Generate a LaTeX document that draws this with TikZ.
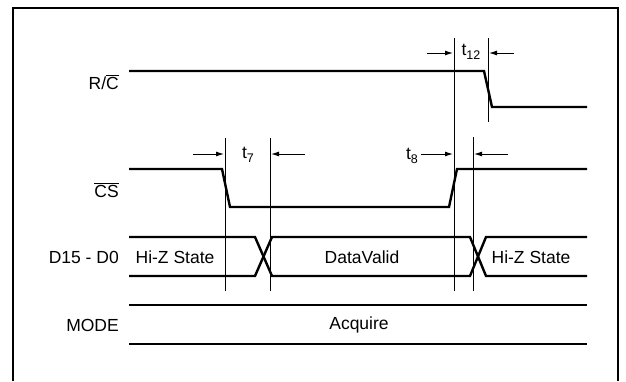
\documentclass[tikz,border=0pt]{standalone}
\usepackage{fontspec}
\setmainfont{Liberation Sans}
\usetikzlibrary{arrows.meta}
\newcommand{\lowsub}[1]{\raisebox{-0.45ex}{\fontsize{12.5}{12.5}\selectfont #1}}
\newcommand{\ovl}[1]{\leavevmode\hbox{\vbox{\hrule height 0.9pt\kern 1.3pt\hbox{#1}}}}
\begin{document}
\begin{tikzpicture}[x=1pt,y=-1pt,
  sig/.style={line width=2.4pt, line join=miter},
  guide/.style={line width=0.8pt},
  dim/.style={line width=1pt, -{Latex[length=8pt,width=5pt]}},
  lbl/.style={inner sep=0pt, font=\fontsize{17.5}{17.5}\selectfont},
  sublbl/.style={inner sep=0pt, font=\fontsize{17.5}{17.5}\selectfont}]
\useasboundingbox (0,0) rectangle (626,381);
\fill[white] (0,0) rectangle (626,381);
% frame
\draw[line width=2pt] (13,381) -- (13,8) -- (618,8) -- (618,381);

% signal labels
\node[lbl, anchor=east] (rc) at (119,82) {R/\ovl{C}};
\node[lbl, anchor=east] (cs) at (119,190) {\ovl{CS}};
\node[lbl, anchor=east] (dbus) at (119,257) {D15 - D0};
\node[lbl, anchor=east] (mode) at (119,325) {MODE};

% R/C waveform
\coordinate (rc0) at (129,71);
\coordinate (rc1) at (484,71);
\coordinate (rc2) at (492,107);
\coordinate (rc3) at (587,107);
\draw[sig] (rc0) -- (rc1) -- (rc2) -- (rc3);

% CS waveform
\coordinate (cs0) at (129,169);
\coordinate (cs1) at (222,169);
\coordinate (cs2) at (230,207);
\coordinate (cs3) at (449,207);
\coordinate (cs4) at (457,169);
\coordinate (cs5) at (587,169);
\draw[sig] (cs0) -- (cs1) -- (cs2) -- (cs3) -- (cs4) -- (cs5);

% Data bus
\coordinate (d0t) at (129,237);
\coordinate (d0b) at (129,276);
\coordinate (x1lt) at (255,237);
\coordinate (x1lb) at (255,276);
\coordinate (x1rt) at (272,237);
\coordinate (x1rb) at (272,276);
\coordinate (x2lt) at (470,237);
\coordinate (x2lb) at (470,276);
\coordinate (x2rt) at (486,237);
\coordinate (x2rb) at (486,276);
\coordinate (d1t) at (587,237);
\coordinate (d1b) at (587,276);
\draw[sig] (d0t) -- (x1lt) -- (x1rb) -- (x2lb) -- (x2rt) -- (d1t);
\draw[sig] (d0b) -- (x1lb) -- (x1rt) -- (x2lt) -- (x2rb) -- (d1b);
\node[lbl] (hiz1) at (175,257) {Hi-Z State};
\node[lbl] (valid) at (362,257) {DataValid};
\node[lbl] (hiz2) at (531,257) {Hi-Z State};

% Mode
\coordinate (m0t) at (129,305);
\coordinate (m1t) at (587,305);
\coordinate (m0b) at (129,344);
\coordinate (m1b) at (587,344);
\draw[sig] (m0t) -- (m1t);
\draw[sig] (m0b) -- (m1b);
\node[lbl] (acq) at (359,325) {Acquire};

% guide lines
\coordinate (g1a) at (225,138); \coordinate (g1b) at (225,291);
\coordinate (g2a) at (270,138); \coordinate (g2b) at (270,291);
\coordinate (g3a) at (454,38);  \coordinate (g3b) at (454,291);
\coordinate (g4a) at (473,137); \coordinate (g4b) at (473,291);
\coordinate (g5a) at (488,38);  \coordinate (g5b) at (488,122);
\draw[guide] (g1a) -- (g1b);
\draw[guide] (g2a) -- (g2b);
\draw[guide] (g3a) -- (g3b);
\draw[guide] (g4a) -- (g4b);
\draw[guide] (g5a) -- (g5b);

% t12
\coordinate (a12l) at (427,53); \coordinate (a12le) at (453,53);
\coordinate (a12r) at (514,53); \coordinate (a12re) at (489,53);
\draw[dim] (a12l) -- (a12le);
\draw[dim] (a12r) -- (a12re);
\node[sublbl] (t12) at (471,52) {t\lowsub{12}};

% t7
\coordinate (a7l) at (193,154); \coordinate (a7le) at (224,154);
\coordinate (a7r) at (305,154); \coordinate (a7re) at (271,154);
\draw[dim] (a7l) -- (a7le);
\draw[dim] (a7r) -- (a7re);
\node[sublbl] (t7) at (248,155) {t\lowsub{7}};

% t8
\coordinate (a8l) at (421,154); \coordinate (a8le) at (453,154);
\coordinate (a8r) at (508,154); \coordinate (a8re) at (474,154);
\draw[dim] (a8l) -- (a8le);
\draw[dim] (a8r) -- (a8re);
\node[sublbl] (t8) at (412,156) {t\lowsub{8}};
\end{tikzpicture}
\end{document}
